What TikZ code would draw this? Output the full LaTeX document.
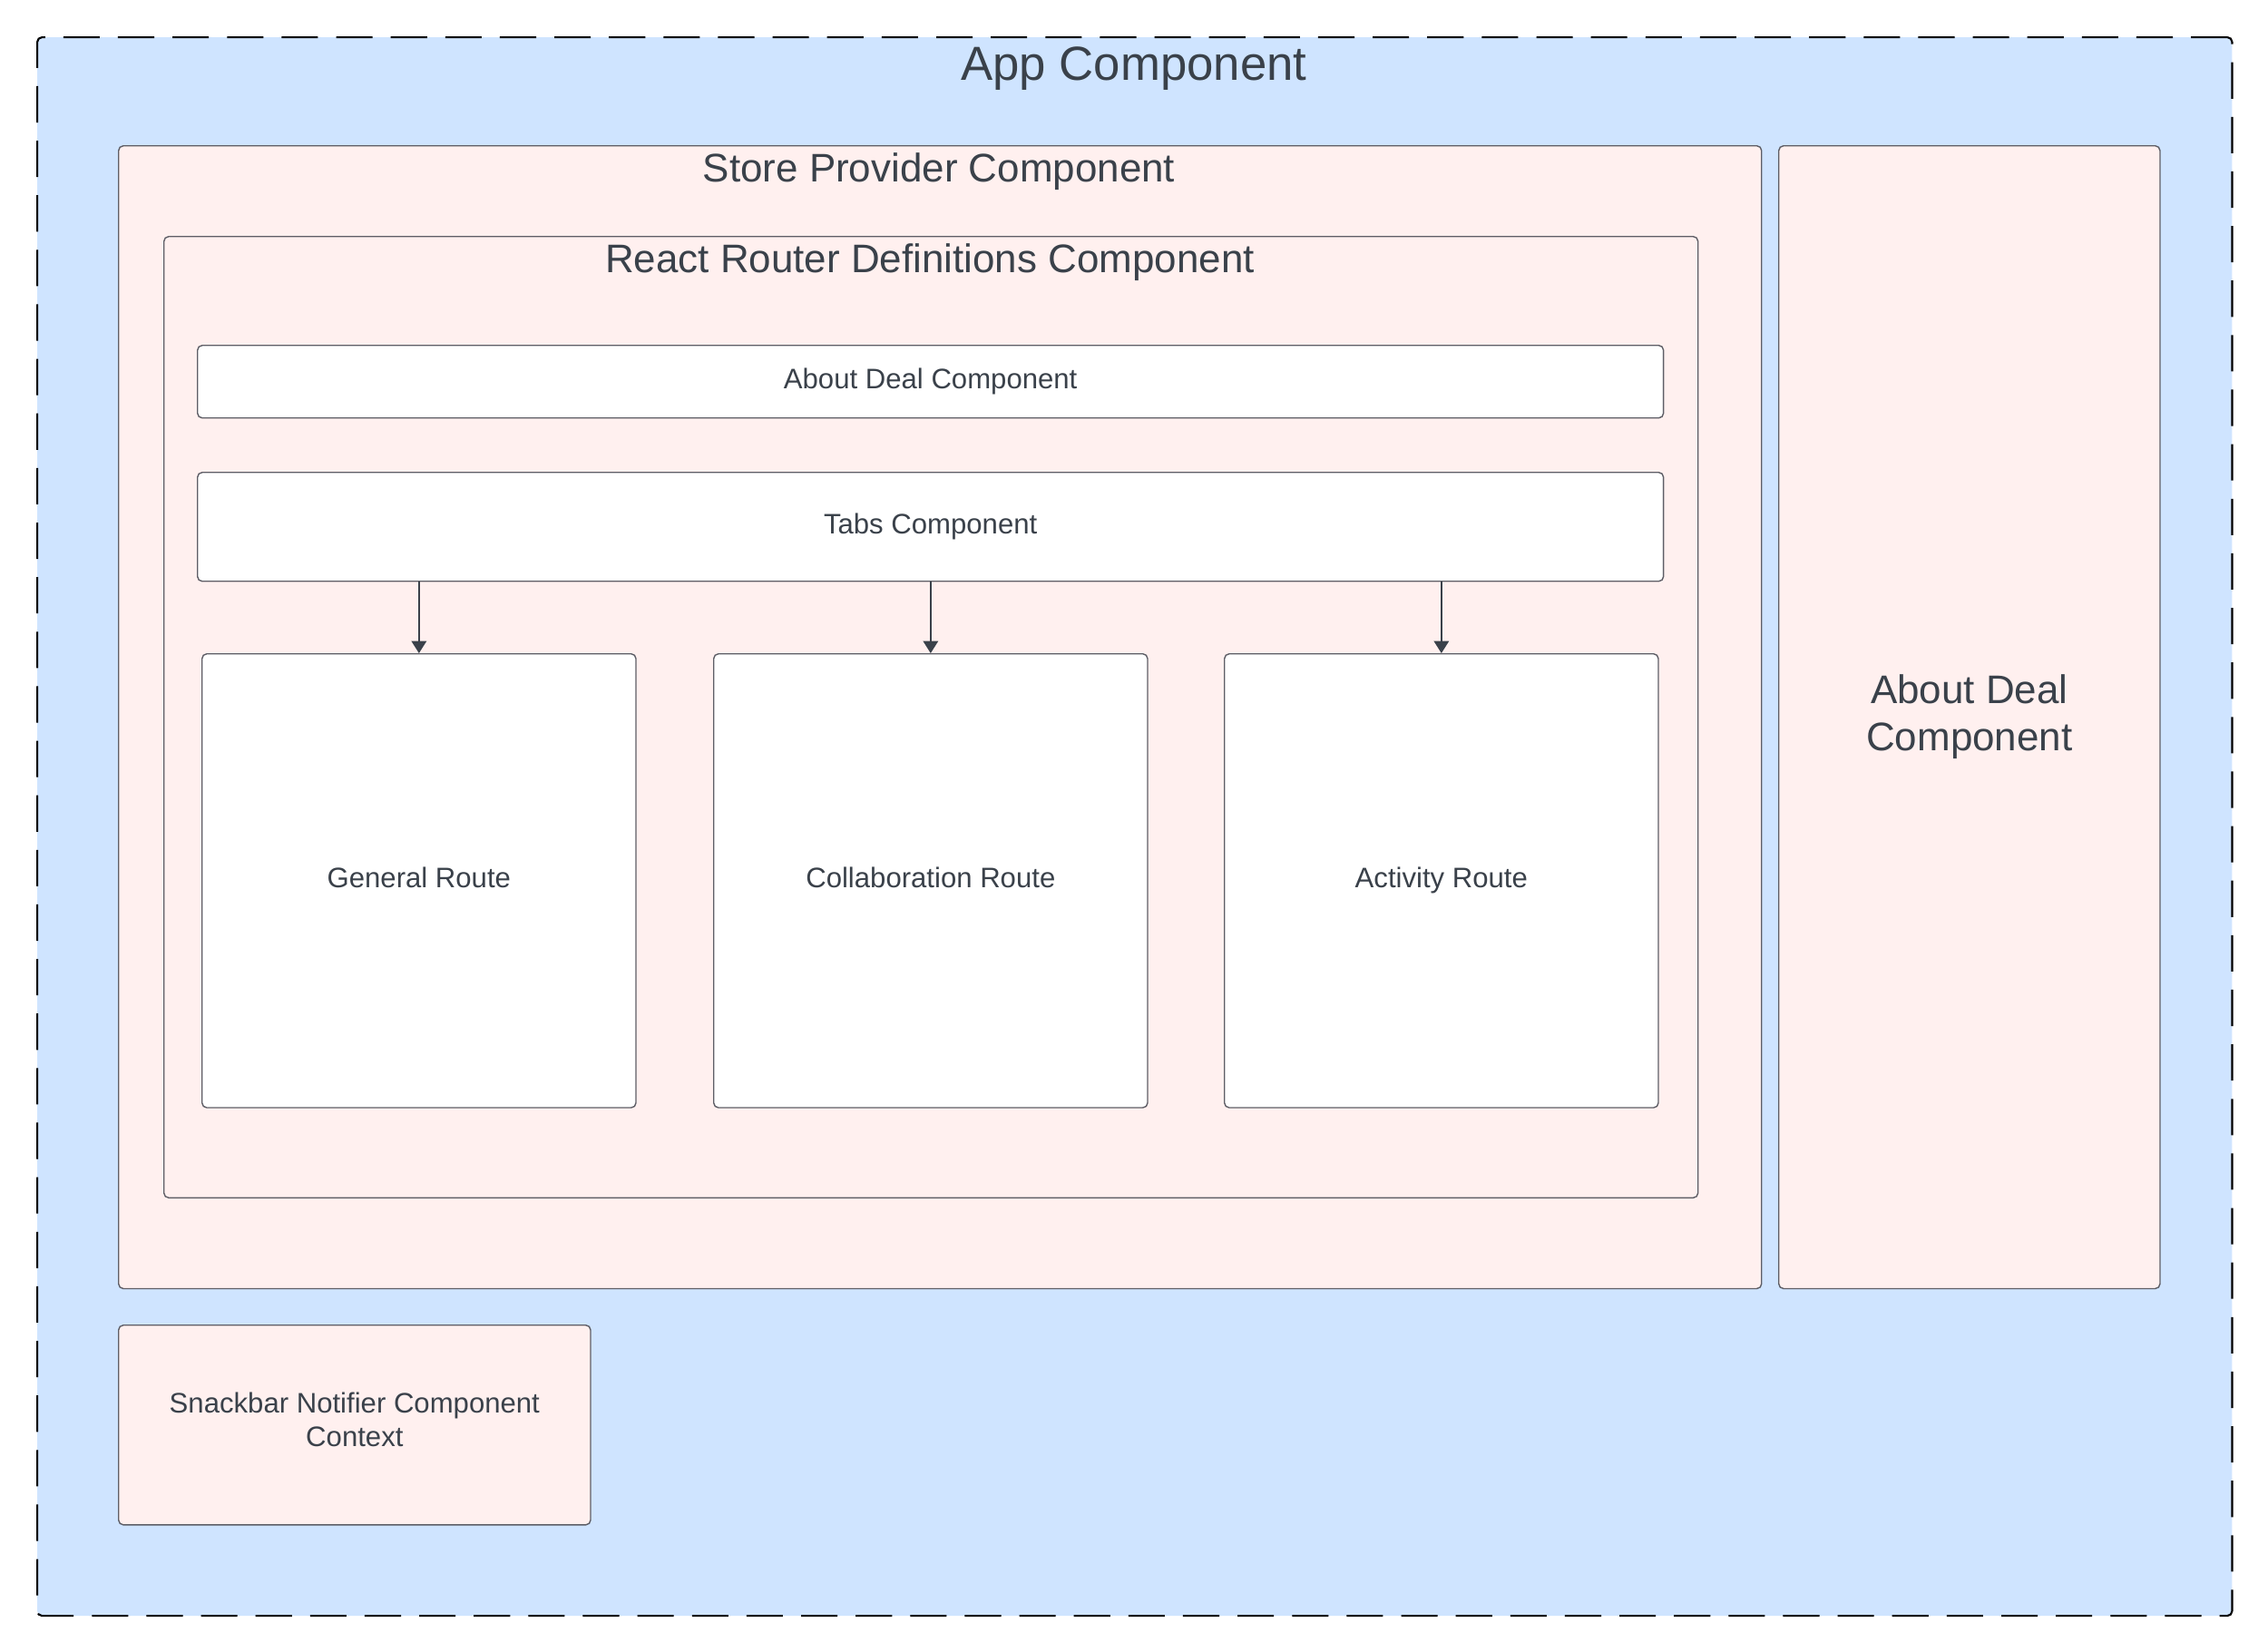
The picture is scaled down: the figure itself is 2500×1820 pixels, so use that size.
\documentclass[tikz,border=0pt]{standalone}
\usepackage{fontspec}
\setmainfont{Liberation Sans}
\usetikzlibrary{arrows.meta}
\definecolor{appblue}{HTML}{CFE4FF}
\definecolor{storepink}{HTML}{FFF0EF}
\definecolor{inktext}{HTML}{3A414A}
\definecolor{edgegray}{HTML}{5E5E66}
\begin{document}
\begin{tikzpicture}[
  x=0.01cm, y=-0.01cm,
  every node/.style={text=inktext, align=center, inner sep=0pt},
  box/.style={draw=edgegray, line width=0.4pt, rounded corners=1.5pt, anchor=north west},
  small/.style={font=\fontsize{8.85}{10.5}\selectfont},
  big/.style={font=\fontsize{12.5}{14.8}\selectfont},
  tip/.style={-{Triangle[width=4.7pt,length=3.8pt]}, draw=inktext, line width=0.4pt}
]
  \path[fill=white, use as bounding box] (0,0) rectangle (2500,1820);
  \node[box, draw=black, line width=0.6pt, dash pattern=on 11.4pt off 5.7pt, fill=appblue, minimum width=24.18cm, minimum height=17.39cm] (app) at (40,40) {};
  \node[anchor=base, font=\fontsize{15}{18}\selectfont] (apptitle) at (1250,88) {App Component};
  \node[box, fill=storepink, minimum width=18.10cm, minimum height=12.59cm] (store) at (130,160) {};
  \node[anchor=base, big] (storetitle) at (1035,200) {Store Provider Component};
  \node[box, fill=storepink, minimum width=4.20cm, minimum height=12.59cm, big] (aboutside) at (1960,160) {About Deal\\Component};
  \node[box, fill=storepink, minimum width=16.90cm, minimum height=10.59cm] (router) at (180,260) {};
  \node[anchor=base, big] (routertitle) at (1025,300) {React Router Definitions Component};
  \node[box, fill=white, minimum width=16.15cm, minimum height=0.80cm, small] (aboutbar) at (217,380) {About Deal Component};
  \node[box, fill=white, minimum width=16.15cm, minimum height=1.20cm, small] (tabs) at (217,520) {Tabs Component};
  \foreach \name/\x/\txt in {general/222/General Route, collab/786/Collaboration Route, activity/1349/Activity Route}{
    \node[box, fill=white, minimum width=4.78cm, minimum height=5.00cm, small, text height=6.5pt, text depth=1.9pt] (\name) at (\x,720) {\txt};
    \draw[tip] (tabs.south -| \name.north) -- (\name.north);
  }
  \node[box, fill=storepink, minimum width=5.20cm, minimum height=2.20cm, small, text depth=3.5pt] (snackbar) at (130,1460) {Snackbar Notifier Component\\Context};
\end{tikzpicture}
\end{document}
